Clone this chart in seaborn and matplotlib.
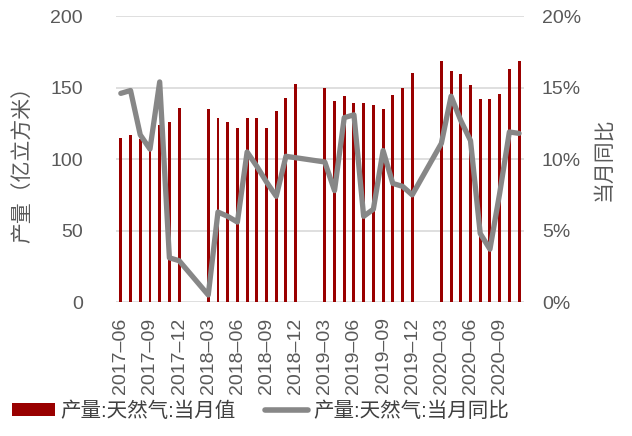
import numpy as np
import pandas as pd
import matplotlib
matplotlib.use("Agg")
import matplotlib.pyplot as plt
from matplotlib.lines import Line2D
from matplotlib.patches import Patch
import seaborn as sns

# Monthly natural gas output (100 million m3) and year-on-year growth (%),
# Jan/Feb are not published separately, so they stay empty.
months = pd.period_range("2017-06", "2020-11", freq="M").strftime("%Y-%m").tolist()

output = [115, 117, 114, 110, 124, 126, 136,
          np.nan, np.nan, 135, 129, 126, 122, 129, 129, 122, 134, 143, 152.5,
          np.nan, np.nan, 150, 141, 144, 139, 139, 138, 135, 145, 150, 160,
          np.nan, np.nan, 168.5, 161.5, 159.5, 152, 142, 142, 145.5, 163, 168.5]

yoy = [14.6, 14.8, 11.7, 10.7, 15.4, 3.1, 2.9,
       np.nan, np.nan, 0.5, 6.3, 6.0, 5.6, 10.5, 9.5, 8.4, 7.4, 10.2, 10.1,
       np.nan, np.nan, 9.8, 7.8, 12.9, 13.1, 6.0, 6.5, 10.6, 8.3, 8.1, 7.5,
       np.nan, np.nan, 11.1, 14.4, 12.7, 11.3, 4.8, 3.7, 7.6, 11.9, 11.8]

bar_label = "产量:天然气:当月值"
line_label = "产量:天然气:当月同比"
left_title = "产量（亿立方米）"
right_title = "当月同比"

df = pd.DataFrame({"month": months, "output": output, "yoy": yoy})
df["pos"] = np.arange(len(df))

sns.set_theme(style="white")
plt.rcParams["font.family"] = ["Liberation Sans", "Noto Sans CJK SC", "DejaVu Sans"]
plt.rcParams["axes.unicode_minus"] = False

bar_color = "#990000"
line_color = "#878787"
text_color = "#595959"
grid_color = "#d9d9d9"

fig = plt.figure(figsize=(6.32, 4.36), dpi=100)
ax = fig.add_axes([0.1835, 0.307, 0.6455, 0.656])

sns.barplot(data=df, x="month", y="output", order=months, color=bar_color,
            saturation=1, width=0.3, linewidth=0, ax=ax)
ax.set_xlim(-0.5, len(months) - 0.5)
ax.set_ylim(0, 200)
ax.set_yticks([0, 50, 100, 150, 200])
ax.grid(axis="y", color=grid_color, linewidth=1.2)
ax.set_axisbelow(True)
for s in ax.spines.values():
    s.set_visible(False)

ax2 = ax.twinx()
line_df = df.dropna(subset=["yoy"])
sns.lineplot(data=line_df, x="pos", y="yoy", color=line_color, linewidth=3.8,
             solid_capstyle="round", solid_joinstyle="round", ax=ax2)
ax2.set_ylim(0, 20)
ax2.set_yticks([0, 5, 10, 15, 20])
ax2.set_yticklabels([f"{v}%" for v in [0, 5, 10, 15, 20]])
ax2.set_xlim(-0.5, len(months) - 0.5)
for s in ax2.spines.values():
    s.set_visible(False)

tick_idx = list(range(0, len(months), 3))
ax.set_xticks(tick_idx)
ax.set_xticklabels([months[i].replace("-", "–") for i in tick_idx], rotation=90)
ax.tick_params(axis="x", length=0, pad=11, labelsize=14, labelcolor=text_color)
ax.tick_params(axis="y", length=0, pad=24, labelsize=14, labelcolor=text_color)
ax2.tick_params(axis="y", length=0, pad=13, labelsize=14, labelcolor=text_color)

ax.set_xlabel("")
ax.set_ylabel(left_title, fontsize=15, color=text_color, labelpad=12)
ax2.set_xlabel("")
ax2.set_ylabel(right_title, fontsize=15, color=text_color, rotation=90, labelpad=9)

handles = [Patch(facecolor=bar_color, edgecolor="none"),
           Line2D([0], [0], color=line_color, linewidth=4, solid_capstyle="round")]
fig.legend(handles, [bar_label, line_label], loc="center left",
           bbox_to_anchor=(-0.01, 1 - 411 / 436), ncol=2, frameon=False,
           fontsize=14.8, handlelength=2.1, handleheight=0.6, handletextpad=0.25,
           columnspacing=1.4, labelcolor="#404040")

fig.savefig("out.png", dpi=100)
